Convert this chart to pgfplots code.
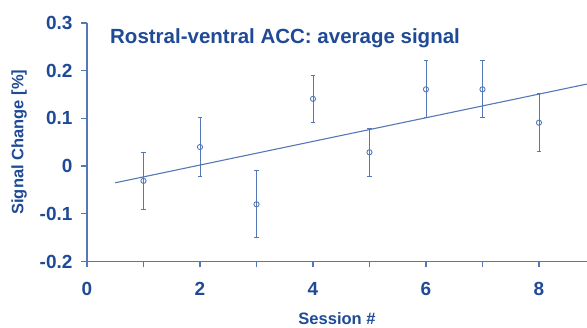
\documentclass[border=0pt]{standalone}
\usepackage{pgfplots}
\pgfplotsset{compat=1.18}
\usepackage{fontspec}
\setmainfont{Liberation Sans}
\definecolor{txtblue}{HTML}{1E4A96}
\definecolor{lnblue}{HTML}{5478B6}
\begin{document}
\begin{tikzpicture}
\begin{axis}[
  x=56.5pt, y=477pt,
  xmin=0, xmax=8.85, ymin=-0.2, ymax=0.3,
  axis x line=bottom, axis y line=left,
  axis line style={lnblue, line width=1.3pt, -},
  xtick={0,2,4,6,8}, minor xtick={1,3,5,7},
  ytick={-0.2,-0.1,0,0.1,0.2,0.3},
  yticklabels={-0.2,-0.1,0,0.1,0.2,0.3},
  tick align=outside,
  major tick length=6pt, minor tick length=6pt,
  every tick/.style={lnblue, line width=1.3pt},
  tick label style={font=\fontsize{19}{19}\selectfont\bfseries, text=txtblue},
  /pgf/number format/assume math mode=true,
  yticklabel style={xshift=-5pt},
  xticklabel style={yshift=-11pt},
  xlabel={Session \#}, ylabel={Signal Change [\%]},
  label style={font=\fontsize{16.5}{16.5}\selectfont\bfseries, text=txtblue},
  xlabel style={yshift=-10pt},
  ylabel style={yshift=6pt},
  clip=false,
]
\addplot[lnblue, line width=1pt, mark=o, mark size=2.6pt, mark options={line width=0.9pt},
  only marks,
  error bars/.cd, y dir=both, y explicit,
  error bar style={line width=0.9pt, lnblue},
  error mark options={rotate=90, mark size=2.2pt, line width=0.9pt, lnblue}]
coordinates {
(1,-0.031) +- (0,0.060)
(2,0.040) +- (0,0.062)
(3,-0.080) +- (0,0.070)
(4,0.141) +- (0,0.049)
(5,0.029) +- (0,0.050)
(6,0.161) +- (0,0.060)
(7,0.161) +- (0,0.060)
(8,0.091) +- (0,0.061)
};
\addplot[lnblue, line width=1.1pt] coordinates {(0.5,-0.035) (8.85,0.172)};
\node[anchor=base west, font=\fontsize{20.5}{20.5}\selectfont\bfseries, text=txtblue, inner sep=0pt]
  at (rel axis cs:0.046,0.914) {Rostral-ventral ACC: average signal};
\coordinate (sw) at (axis cs:0,-0.2);
\coordinate (ne) at (axis cs:8.85,0.3);
\end{axis}
\pgfresetboundingbox
\path ([shift={(-87pt,-66pt)}]sw) rectangle ([shift={(0pt,23pt)}]ne);
\end{tikzpicture}
\end{document}
